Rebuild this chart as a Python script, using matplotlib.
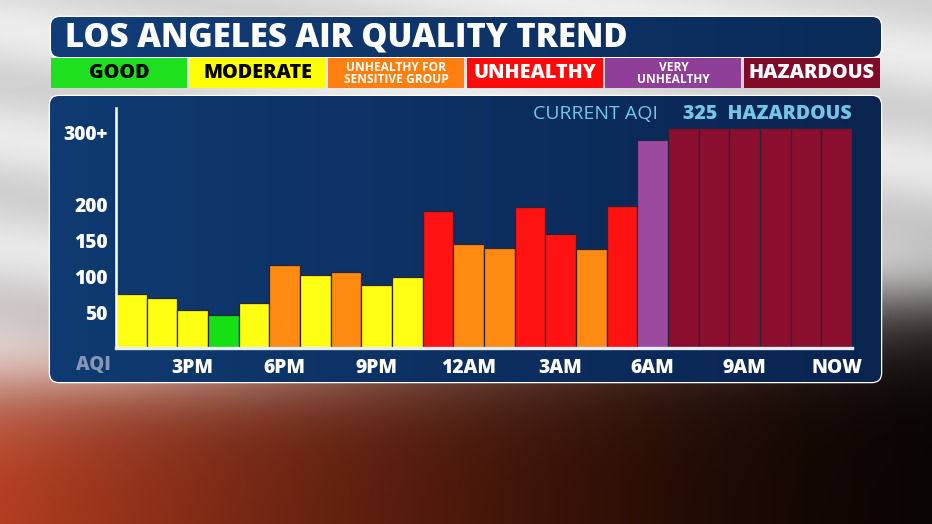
import numpy as np
import matplotlib
matplotlib.use("Agg")
import matplotlib.pyplot as plt
from matplotlib.patches import FancyBboxPatch, Rectangle

# ---------------- data ----------------
hours = ["1PM", "2PM", "3PM", "4PM", "5PM", "6PM", "7PM", "8PM", "9PM", "10PM",
         "11PM", "12AM", "1AM", "2AM", "3AM", "4AM", "5AM", "6AM", "7AM", "8AM",
         "9AM", "10AM", "11AM", "NOW"]
aqi_values = [75, 70, 53, 46, 62, 115, 102, 106, 87, 98, 190, 145,
              139, 196, 158, 137, 197, 289, 305, 305, 305, 305, 305, 305]
aqi_levels = ["MOD", "MOD", "MOD", "GOOD", "MOD", "USG", "MOD", "USG", "MOD", "MOD",
              "UNH", "USG", "USG", "UNH", "UNH", "USG", "UNH", "VUH",
              "HAZ", "HAZ", "HAZ", "HAZ", "HAZ", "HAZ"]
tick_hours = ["3PM", "6PM", "9PM", "12AM", "3AM", "6AM", "9AM", "NOW"]
y_ticks = [50, 100, 150, 200, 300]
y_tick_labels = ["50", "100", "150", "200", "300+"]
legend_keys = ["GOOD", "MOD", "USG", "UNH", "VUH", "HAZ"]
legend_labels = ["GOOD", "MODERATE", "UNHEALTHY FOR\nSENSITIVE GROUP", "UNHEALTHY",
                 "VERY\nUNHEALTHY", "HAZARDOUS"]
title = "LOS ANGELES AIR QUALITY TREND"
current_label = "CURRENT AQI"
current_value = "325  HAZARDOUS"

bar_colors = {"GOOD": "#14e014", "MOD": "#ffff14", "USG": "#ff8a12",
              "UNH": "#ff1212", "VUH": "#9c4aa0", "HAZ": "#8a0e2e"}
legend_colors = {"GOOD": "#1ee01e", "MOD": "#ffff00", "USG": "#ff8010",
                 "UNH": "#ff0a0a", "VUH": "#8f3f97", "HAZ": "#800a28"}
legend_text_colors = {"GOOD": "black", "MOD": "black", "USG": "white",
                      "UNH": "white", "VUH": "white", "HAZ": "white"}

FONT = "Open Sans"
W, H = 932, 524
fig = plt.figure(figsize=(W / 100, H / 100), dpi=100)

# ---------------- background canvas (pixel coords) ----------------
bg = fig.add_axes([0, 0, 1, 1])
bg.set_xlim(0, W)
bg.set_ylim(H, 0)
bg.axis("off")

yy, xx = np.mgrid[0:H, 0:W]
xf = xx / W
yf = yy / H
gray = 0.84 + 0.05 * np.sin(yf * 30 - xf * 8) + 0.04 * (1 - yf)
gray = np.clip(gray, 0, 1)
top = np.dstack([gray, gray, gray])
fire_r = 0.66 * (1 - xf) ** 1.4 + 0.04
fire_g = 0.22 * (1 - xf) ** 1.6 + 0.02
fire_b = 0.12 * (1 - xf) ** 2 + 0.01
bottom = np.dstack([fire_r, fire_g, fire_b])
w = 1 / (1 + np.exp(-(yy - 300 - 90 * (1 - xf)) / 26))
img = top * (1 - w[..., None]) + bottom * w[..., None]
bg.imshow(img, extent=(0, W, H, 0), aspect="auto", zorder=0)

def rbox(x, y, w_, h_, fc, r=8, ec="none", lw=0, z=1):
    p = FancyBboxPatch((x, y), w_, h_, boxstyle=f"round,pad=0,rounding_size={r}",
                       fc=fc, ec=ec, lw=lw, zorder=z)
    bg.add_patch(p)
    return p

def gradient_fill(patch, x0, x1, y0, y1, c_left, c_right, z):
    g = np.linspace(0, 1, 256)[None, :, None]
    c0 = np.array(matplotlib.colors.to_rgb(c_left))[None, None, :]
    c1 = np.array(matplotlib.colors.to_rgb(c_right))[None, None, :]
    arr = c0 * (1 - g) + c1 * g
    im = bg.imshow(arr, extent=(x0, x1, y1, y0), aspect="auto", zorder=z)
    im.set_clip_path(patch)

# title bar
tb = rbox(51, 17, 830, 40, "#0c3366", r=9, ec="white", lw=1.8, z=2)
gradient_fill(tb, 51, 881, 17, 57, "#123e78", "#0a2a58", 2.1)
bg.text(65, 37.5, title, color="white", fontsize=23.7, fontweight="extra bold",
        family=FONT, va="center", ha="left", zorder=3)

# legend row
lx0, lx1 = 51, 880
gap = 2.6
bw = (lx1 - lx0 - 5 * gap) / 6
for i, (k, lab) in enumerate(zip(legend_keys, legend_labels)):
    x = lx0 + i * (bw + gap)
    bg.add_patch(Rectangle((x, 58), bw, 30, fc=legend_colors[k], ec="none", zorder=2))
    two = "\n" in lab
    bg.text(x + bw / 2, 73.5, lab, color=legend_text_colors[k],
            fontsize=8.6 if two else 14.2, fontweight="bold" if two else "extra bold",
            family=FONT, ha="center", va="center", linespacing=0.82, zorder=3)

# main panel
pn = rbox(50, 96, 831, 286, "#0b2e5e", r=9, ec="white", lw=1.8, z=2)
gradient_fill(pn, 50, 881, 96, 382, "#0f3b72", "#0a2450", 2.1)

bg.text(658, 114, current_label, color="#74c6e8", fontsize=14, family=FONT,
        ha="right", va="center", zorder=3)
bg.text(852, 114, current_value, color="#74c6e8", fontsize=14, fontweight="extra bold",
        family=FONT, ha="right", va="center", zorder=3)
bg.text(93, 365, "AQI", color="#8596b4", fontsize=13.5, fontweight="extra bold",
        family=FONT, ha="center", va="center", zorder=3)

# ---------------- chart axes ----------------
base_y, top_y = 348, 108
px_per_unit = 0.72
ax = fig.add_axes([116 / W, (H - base_y) / H, (852 - 116) / W, (base_y - top_y) / H])
ax.set_facecolor("none")
ax.set_zorder(5)
x = np.arange(len(hours))
ax.bar(x, aqi_values, width=1.0, color=[bar_colors[l] for l in aqi_levels],
       edgecolor="#2a2438", linewidth=0.9, zorder=2)
ax.set_xlim(-0.5, len(hours) - 0.5)
ax.set_ylim(0, (base_y - top_y) / px_per_unit)
ax.set_xticks([hours.index(h) for h in tick_hours])
ax.set_xticklabels(tick_hours)
ax.set_yticks(y_ticks)
ax.set_yticklabels(y_tick_labels)
ax.tick_params(axis="both", length=0, colors="white")
ax.tick_params(axis="x", pad=7.5)
ax.tick_params(axis="y", pad=6)
for lab in ax.get_xticklabels() + ax.get_yticklabels():
    lab.set_family(FONT)
    lab.set_fontweight("extra bold")
    lab.set_fontsize(13.8)
    lab.set_color("white")
for s in ["top", "right"]:
    ax.spines[s].set_visible(False)
ax.spines["left"].set_color("white")
ax.spines["left"].set_linewidth(1.8)
ax.spines["bottom"].set_color("#e6edf5")
ax.spines["bottom"].set_linewidth(2.4)
ax.spines["left"].set_zorder(3)
ax.spines["bottom"].set_zorder(3)

fig.savefig("out.png", dpi=100)
